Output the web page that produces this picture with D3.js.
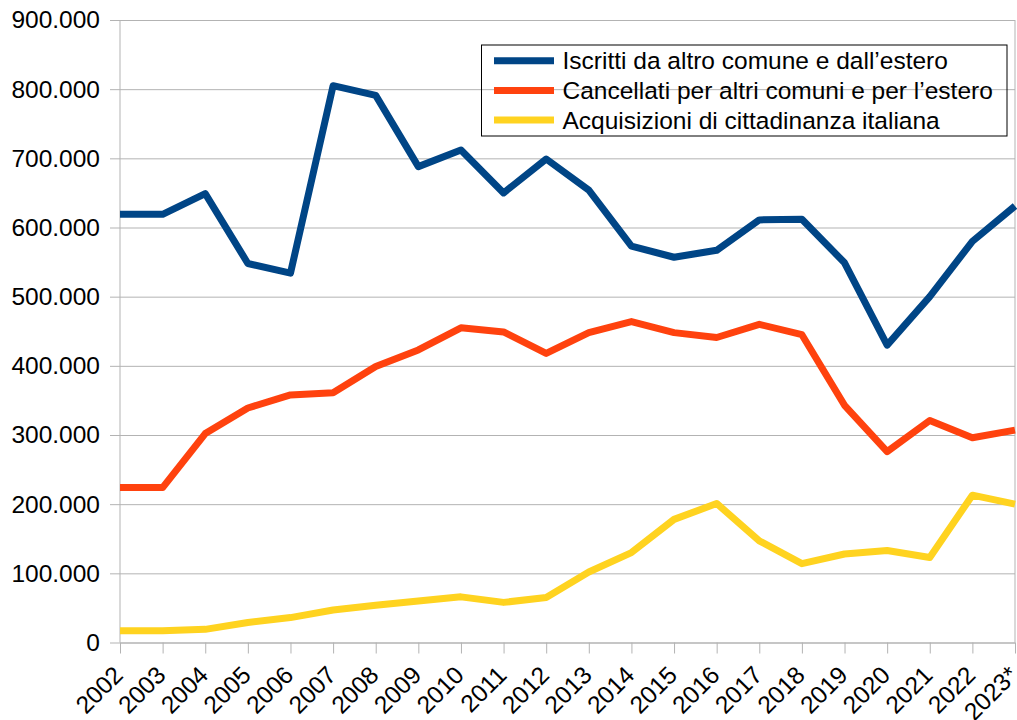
<!DOCTYPE html>
<html>
<head>
<meta charset="utf-8">
<script src="https://cdn.jsdelivr.net/npm/d3@7"></script>
<style>
  body { margin: 0; background: #fff; }
  text { font-family: "Liberation Sans", Arial, sans-serif; fill: #000; }
</style>
</head>
<body>
<div id="chart"></div>
<script>
// Data
const years = ["2002", "2003", "2004", "2005", "2006", "2007", "2008", "2009", "2010", "2011", "2012",
               "2013", "2014", "2015", "2016", "2017", "2018", "2019", "2020", "2021", "2022", "2023*"];
const iscritti = [619000, 619000, 649000, 548000, 534000, 805000, 791000, 688000, 712000, 650000, 699000,
                  654000, 573000, 557000, 567000, 611000, 612000, 549000, 430000, 500000, 580000, 631000];
const cancellati = [224000, 224000, 302000, 339000, 358000, 361000, 399000, 423000, 455000, 449000, 418000,
                    448000, 464000, 448000, 441000, 460000, 445000, 343000, 276000, 321000, 296000, 307000];
const acquisizioni = [17000, 17000, 19000, 29000, 36000, 47000, 54000, 60000, 66000, 58000, 65000,
                      102000, 130000, 178000, 201000, 147000, 114000, 128000, 133000, 123000, 213000, 200000];
const seriesNames = ["Iscritti da altro comune e dall\u2019estero",
                     "Cancellati per altri comuni e per l\u2019estero",
                     "Acquisizioni di cittadinanza italiana"];
const seriesColors = ["#004586", "#ff420e", "#ffd320"];
const yTicks = [0, 100000, 200000, 300000, 400000, 500000, 600000, 700000, 800000, 900000];

const width = 1017, height = 720;
const margin = {top: 20, right: 2, bottom: 77.5, left: 120};
const fontSize = "24.5px";

const svg = d3.select("#chart")
              .append("svg")
              .attr("width", width)
              .attr("height", height);

const x = d3.scalePoint()
            .domain(years)
            .range([margin.left, width - margin.right]);

const y = d3.scaleLinear()
            .domain([0, 900000])
            .range([height - margin.bottom, margin.top]);

const fmt = v => v === 0 ? "0" : d3.format(",")(v).replace(/,/g, ".");

// Grid lines and y labels
svg.append("g")
   .attr("transform", `translate(${margin.left},0)`)
   .call(d3.axisLeft(y)
           .tickValues(yTicks)
           .tickSize(-(width - margin.left - margin.right))
           .tickSizeOuter(0)
           .tickFormat(fmt)
           .tickPadding(20))
   .call(g => g.select(".domain").remove())
   .call(g => g.selectAll(".tick line").attr("stroke", "#b3b3b3").attr("x1", -10))
   .call(g => g.selectAll(".tick text")
               .style("font-size", fontSize)
               .attr("font-family", null));

// Left axis and right border
svg.append("line")
   .attr("x1", margin.left).attr("x2", margin.left)
   .attr("y1", y(900000)).attr("y2", y(0))
   .attr("stroke", "#b3b3b3");
svg.append("line")
   .attr("x1", width - margin.right).attr("x2", width - margin.right)
   .attr("y1", y(900000)).attr("y2", y(0))
   .attr("stroke", "#b3b3b3");

// X axis
const xAxis = svg.append("g")
   .attr("transform", `translate(0,${y(0)})`)
   .call(d3.axisBottom(x).tickSize(11).tickSizeOuter(0));
xAxis.select(".domain").attr("stroke", "#b3b3b3");
xAxis.selectAll(".tick line").attr("stroke", "#b3b3b3");
xAxis.selectAll(".tick text")
     .attr("font-family", null)
     .style("font-size", fontSize)
     .attr("text-anchor", "end")
     .attr("dy", null)
     .attr("y", 0)
     .attr("transform", "translate(4,34) rotate(-45)");

// Lines
const line = d3.line()
               .x((d, i) => x(years[i]))
               .y(d => y(d));

[iscritti, cancellati, acquisizioni].forEach((s, i) => {
    svg.append("path")
       .datum(s)
       .attr("fill", "none")
       .attr("stroke", seriesColors[i])
       .attr("stroke-width", 7)
       .attr("stroke-linejoin", "round")
       .attr("d", line);
});

// Legend (no fill, grid shows through as in the original)
const legend = svg.append("g").attr("transform", "translate(481.5,45)");
legend.append("rect")
      .attr("width", 525.5)
      .attr("height", 91)
      .attr("fill", "none")
      .attr("stroke", "#000")
      .attr("stroke-width", 1);

seriesNames.forEach((name, i) => {
    const row = legend.append("g").attr("transform", `translate(0,${15.7 + i * 29.7})`);
    row.append("line")
       .attr("x1", 12.5).attr("x2", 72.5)
       .attr("stroke", seriesColors[i])
       .attr("stroke-width", 7);
    row.append("text")
       .attr("x", 81)
       .attr("dy", "0.35em")
       .style("font-size", fontSize)
       .text(name);
});
</script>
</body>
</html>
